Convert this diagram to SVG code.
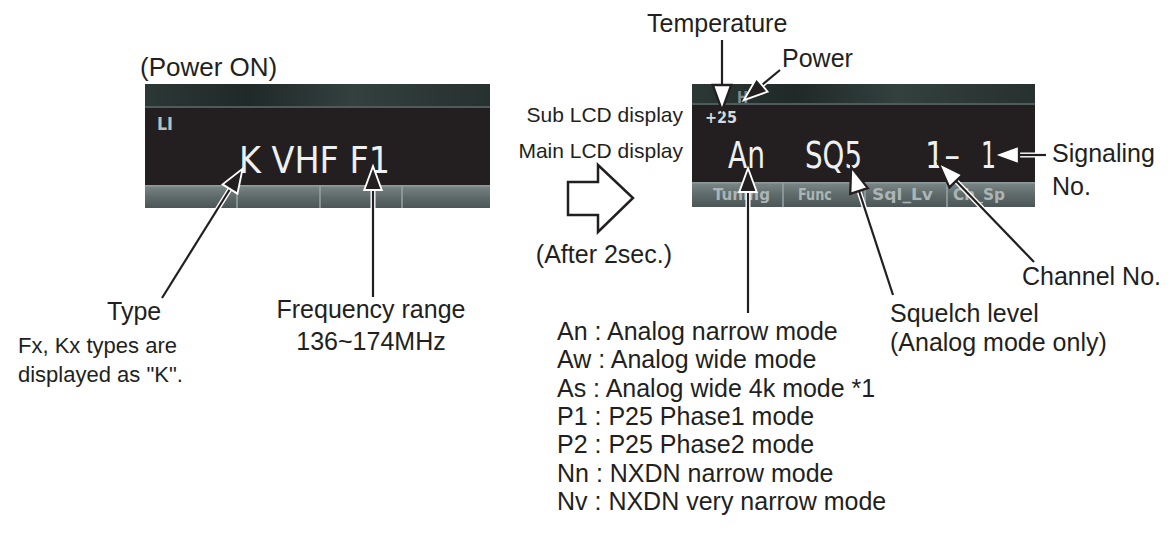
<svg xmlns="http://www.w3.org/2000/svg" width="1175" height="538" viewBox="0 0 1175 538">
<defs>
<linearGradient id="band" x1="0" y1="0" x2="1" y2="0">
<stop offset="0" stop-color="#2c3836"/><stop offset="0.3" stop-color="#1f2928"/><stop offset="0.6" stop-color="#33403e"/><stop offset="1" stop-color="#27312f"/>
</linearGradient>
<linearGradient id="bar" x1="0" y1="0" x2="0" y2="1">
<stop offset="0" stop-color="#7d8888"/><stop offset="0.5" stop-color="#5f6a6a"/><stop offset="1" stop-color="#4c5656"/>
</linearGradient>
<marker id="solid" markerUnits="userSpaceOnUse" markerWidth="30" markerHeight="30" viewBox="-2 -10 24 20" refX="0" refY="0" orient="auto" overflow="visible">
<path d="M0,-7 L19,0 L0,7 Z" fill="#231f20" stroke="#ffffff" stroke-width="1.5" stroke-linejoin="miter"/>
</marker>
<marker id="hollow" markerUnits="userSpaceOnUse" markerWidth="30" markerHeight="30" viewBox="-2 -10 26 20" refX="0" refY="0" orient="auto" overflow="visible">
<path d="M0,-8 L22,0 L0,8 Z" fill="#ffffff" stroke="#231f20" stroke-width="2" stroke-linejoin="miter"/>
</marker>
</defs>
<style>
.lbl{font-family:"Liberation Sans",Arial,sans-serif;font-size:25px;fill:#231f20}
.sm{font-family:"Liberation Sans",Arial,sans-serif;font-size:21px;fill:#231f20}
.lcd{font-family:"DejaVu Sans Condensed","DejaVu Sans",sans-serif;font-size:38px;fill:#eef1f1}
.lcdsm{font-family:"DejaVu Sans Condensed","DejaVu Sans",sans-serif;font-weight:bold}
.btn{font-family:"DejaVu Sans Condensed","DejaVu Sans",sans-serif;font-size:15px;font-weight:bold;fill:#aab5b5}
.halo{fill:none;stroke:#ffffff;stroke-width:5}
.ln{fill:none;stroke:#231f20;stroke-width:2.2}
.sep{stroke:#98a3a3;stroke-width:1.5}
</style>

<g id="label-power-on"><text class="lbl" x="140" y="76" style="font-size:26px">(Power ON)</text></g>

<g id="lcd-initial">
<rect x="145" y="84" width="345" height="124" fill="#231f20"/>
<rect x="145" y="84" width="345" height="23" fill="url(#band)"/>
<rect x="145" y="106" width="345" height="2" fill="#4f5b5a"/>
<rect x="145" y="185" width="345" height="23" fill="url(#bar)"/>
<rect x="145" y="185" width="345" height="1.5" fill="#8f9a9a"/>
<line class="sep" x1="237" y1="186" x2="237" y2="208"/>
<line class="sep" x1="320" y1="186" x2="320" y2="208"/>
<line class="sep" x1="402" y1="186" x2="402" y2="208"/>
<text class="lcdsm" x="157" y="130" style="font-size:17px;fill:#b7c0c0" textLength="16" lengthAdjust="spacingAndGlyphs">LI</text>
<text class="lcd" x="239" y="173" textLength="151" lengthAdjust="spacingAndGlyphs">K VHF F1</text>
</g>

<g id="lcd-labels">
<text class="sm" x="683" y="122" text-anchor="end">Sub LCD display</text>
<text class="sm" x="683" y="158" text-anchor="end">Main LCD display</text>
</g>

<g id="transition-arrow">
<path d="M568,182 L598,182 L598,165 L633,198 L598,232 L598,215 L568,215 Z" fill="#ffffff" stroke="#231f20" stroke-width="2.5" stroke-linejoin="miter"/>
<text class="lbl" x="672" y="263" text-anchor="end">(After 2sec.)</text>
</g>

<g id="lcd-normal">
<rect x="692" y="84" width="343" height="123" fill="#231f20"/>
<rect x="692" y="84" width="343" height="20" fill="url(#band)"/>
<rect x="692" y="103" width="343" height="2" fill="#4f5b5a"/>
<rect x="692" y="182" width="343" height="25" fill="url(#bar)"/>
<rect x="692" y="182" width="343" height="1.5" fill="#8f9a9a"/>
<line class="sep" x1="783" y1="183" x2="783" y2="207"/>
<line class="sep" x1="865" y1="183" x2="865" y2="207"/>
<line class="sep" x1="947" y1="183" x2="947" y2="207"/>
<text class="lcdsm" x="737" y="103" style="font-size:15px;fill:#7f8c8c">H</text>
<text class="lcdsm" x="705" y="123" style="font-size:16px;fill:#d6dada">+25</text>
<text class="lcd" x="728" y="168" textLength="37" lengthAdjust="spacingAndGlyphs">An</text>
<text class="lcd" x="805" y="168" textLength="57" lengthAdjust="spacingAndGlyphs">SQ5</text>
<text class="lcd" x="925" y="168" textLength="35" lengthAdjust="spacingAndGlyphs">1–</text>
<text class="lcd" x="981" y="168" textLength="15" lengthAdjust="spacingAndGlyphs">1</text>
<text class="btn" x="713" y="200" textLength="57" lengthAdjust="spacingAndGlyphs">Tuning</text>
<text class="btn" x="798" y="200" textLength="34" lengthAdjust="spacingAndGlyphs">Func</text>
<text class="btn" x="872" y="200" textLength="61" lengthAdjust="spacingAndGlyphs">Sql_Lv</text>
<text class="btn" x="953" y="200" textLength="52" lengthAdjust="spacingAndGlyphs">Ch_Sp</text>
</g>

<g id="label-temperature"><text class="lbl" x="647" y="32">Temperature</text></g>
<g id="label-power"><text class="lbl" x="782" y="67">Power</text></g>
<g id="label-signaling"><text class="lbl" x="1052" y="162">Signaling</text><text class="lbl" x="1052" y="195">No.</text></g>
<g id="label-channel"><text class="lbl" x="1022" y="285">Channel No.</text></g>
<g id="label-squelch"><text class="lbl" x="890" y="322">Squelch level</text><text class="lbl" x="890" y="351">(Analog mode only)</text></g>
<g id="label-type"><text class="lbl" x="107" y="320">Type</text>
<text class="sm" x="18" y="353" style="font-size:22px">Fx, Kx types are</text>
<text class="sm" x="18" y="382" style="font-size:22px">displayed as "K".</text></g>
<g id="label-frequency"><text class="lbl" x="371" y="318" text-anchor="middle">Frequency range</text>
<text class="lbl" x="371" y="350" text-anchor="middle">136~174MHz</text></g>
<g id="label-modes">
<text class="lbl" x="557" y="340">An : Analog narrow mode</text>
<text class="lbl" x="557" y="368">Aw : Analog wide mode</text>
<text class="lbl" x="557" y="397">As : Analog wide 4k mode *1</text>
<text class="lbl" x="557" y="425">P1 : P25 Phase1 mode</text>
<text class="lbl" x="557" y="453">P2 : P25 Phase2 mode</text>
<text class="lbl" x="557" y="482">Nn : NXDN narrow mode</text>
<text class="lbl" x="557" y="510">Nv : NXDN very narrow mode</text>
</g>

<g id="connectors">
<path class="halo" d="M722,40 L722,85"/><path class="ln" d="M722,40 L722,85" marker-end="url(#hollow)"/>
<path class="halo" d="M780,70 L762,85"/><path class="ln" d="M780,70 L762,85" marker-end="url(#solid)"/>
<path class="halo" d="M748,313 L748,192"/><path class="ln" d="M748,313 L748,192" marker-end="url(#solid)"/>
<path class="halo" d="M893,295 L859,191"/><path class="ln" d="M893,295 L859,191" marker-end="url(#hollow)"/>
<path class="halo" d="M1034,262 L956,181"/><path class="ln" d="M1034,262 L956,181" marker-end="url(#hollow)"/>
<path class="halo" d="M1046,155 L1019,155"/><path class="ln" d="M1046,155 L1019,155" marker-end="url(#hollow)"/>
<path class="halo" d="M162,298 L230,189"/><path class="ln" d="M162,298 L230,189" marker-end="url(#solid)"/>
<path class="halo" d="M373,297 L373,190"/><path class="ln" d="M373,297 L373,190" marker-end="url(#solid)"/>
</g>
</svg>
